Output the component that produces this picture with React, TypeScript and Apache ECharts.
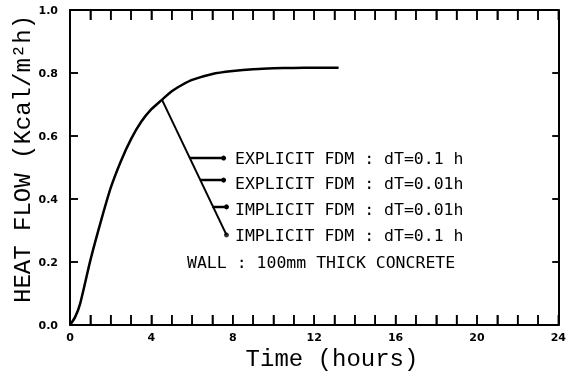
import React, { useEffect, useRef } from "react";
import * as echarts from "echarts";

// Main curve: heat flow vs time
const hours = [0, 0.25, 0.5, 1.0, 1.5, 2.0, 2.5, 3.0, 3.5, 4.0, 4.5, 5.0, 5.5, 6.0, 7.0, 8.0, 9.0, 10, 11, 12, 13.2];
const heatFlow = [0, 0.025, 0.068, 0.205, 0.325, 0.435, 0.52, 0.59, 0.645, 0.685, 0.714, 0.742, 0.762, 0.778, 0.797, 0.806, 0.812, 0.815, 0.816, 0.817, 0.817];

// Axis tick values
const xTicks = [0, 1, 2, 3, 4, 5, 6, 7, 8, 9, 10, 11, 12, 13, 14, 15, 16, 17, 18, 19, 20, 21, 22, 23, 24];
const yTicks = [0, 0.2, 0.4, 0.6, 0.8, 1.0];

// Annotation pointer (diagonal from curve) and its leaders
const pointerX = [4.53, 7.69];
const pointerY = [0.714, 0.286];
const leaderY = [0.53, 0.46, 0.375];
const leaderStartX = [5.89, 6.4, 7.0];
const leaderEndX = [7.55, 7.55, 7.69];

const annotationLabels = [
  "EXPLICIT FDM : dT=0.1 h",
  "EXPLICIT FDM : dT=0.01h",
  "IMPLICIT FDM : dT=0.01h",
  "IMPLICIT FDM : dT=0.1 h",
];
const wallLabel = "WALL : 100mm THICK CONCRETE";
const yTitle = "HEAT FLOW (Kcal/m\u00B2h)";
const xTitle = "Time (hours)";

export default function App() {
  const ref = useRef<HTMLDivElement>(null);
  useEffect(() => {
    if (!ref.current) return;
    const chart = echarts.init(ref.current, null, { renderer: "svg" });
    const labelFont = { color: "#000", fontFamily: "DejaVu Sans", fontWeight: "bold" as const, fontSize: 11 };
    const annFont = { fontFamily: "DejaVu Sans Mono", fontSize: 16.5 };
    const titleFont = { fontFamily: "Liberation Mono", fontSize: 24 };
    const XMIN = 0, XMAX = 24, YMIN = 0, YMAX = 1;
    const hiddenSplit = { show: true, lineStyle: { color: "rgba(0,0,0,0)" } };

    const series: any[] = [
      {
        name: "Heat flow",
        type: "line",
        data: hours.map((h, i) => [h, heatFlow[i]]),
        showSymbol: false,
        smooth: 0.2,
        lineStyle: { color: "#000", width: 2.5 },
        silent: true,
      },
      {
        name: "Pointer",
        type: "line",
        data: pointerX.map((x, i) => [x, pointerY[i]]),
        showSymbol: false,
        lineStyle: { color: "#000", width: 2 },
        silent: true,
      },
    ];
    leaderY.forEach((y, i) => {
      series.push({
        name: annotationLabels[i],
        type: "line",
        data: [
          { value: [leaderStartX[i], y], symbolSize: 0 },
          { value: [leaderEndX[i], y], symbolSize: 5 },
        ],
        symbol: "circle",
        itemStyle: { color: "#000" },
        lineStyle: { color: "#000", width: 2.5 },
        silent: true,
      });
    });
    series.push({
      name: annotationLabels[3],
      type: "scatter",
      data: [[pointerX[1], pointerY[1]]],
      symbolSize: 5,
      itemStyle: { color: "#000" },
      silent: true,
    });

    const texts: any[] = [
      ...annotationLabels.map((t, i) => ({
        type: "text",
        x: 235,
        y: [158, 183, 209, 235][i],
        style: { text: t, ...annFont, fill: "#000", align: "left", verticalAlign: "middle" },
      })),
      {
        type: "text",
        x: 187,
        y: 262,
        style: { text: wallLabel, ...annFont, fill: "#000", align: "left", verticalAlign: "middle" },
      },
      {
        type: "text",
        x: 23,
        y: 159,
        rotation: Math.PI / 2,
        style: { text: yTitle, ...titleFont, fill: "#000", align: "center", verticalAlign: "middle" },
      },
      {
        type: "text",
        x: 332,
        y: 359,
        style: { text: xTitle, ...titleFont, fill: "#000", align: "center", verticalAlign: "middle" },
      },
    ];

    chart.setOption({
      animation: false,
      grid: { left: 70, right: 6, top: 10, bottom: 51 },
      xAxis: [
        {
          type: "value",
          position: "bottom",
          min: XMIN,
          max: XMAX,
          interval: 1,
          axisLine: { show: true, onZero: false, lineStyle: { color: "#000", width: 2 } },
          axisTick: { show: true, inside: true, length: 10, lineStyle: { color: "#000", width: 1.5 } },
          axisLabel: {
            ...labelFont,
            margin: 7,
            formatter: (v: number) => (v % 4 === 0 ? String(v) : ""),
          },
          splitLine: hiddenSplit,
        },
        {
          type: "value",
          position: "top",
          min: XMIN,
          max: XMAX,
          interval: 1,
          axisLine: { show: true, onZero: false, lineStyle: { color: "#000", width: 2 } },
          axisTick: { show: true, inside: true, length: 10, lineStyle: { color: "#000", width: 1.5 } },
          axisLabel: { show: false },
          splitLine: hiddenSplit,
        },
      ],
      yAxis: [
        {
          type: "value",
          position: "left",
          min: YMIN,
          max: YMAX,
          interval: 0.2,
          axisLine: { show: true, lineStyle: { color: "#000", width: 2 } },
          axisTick: { show: true, inside: true, length: 8, lineStyle: { color: "#000", width: 1.5 } },
          axisLabel: { ...labelFont, margin: 12, formatter: (v: number) => v.toFixed(1) },
          splitLine: hiddenSplit,
        },
        {
          type: "value",
          position: "right",
          min: YMIN,
          max: YMAX,
          interval: 0.2,
          axisLine: { show: true, onZero: false, lineStyle: { color: "#000", width: 2 } },
          axisTick: { show: true, inside: true, length: 6, lineStyle: { color: "#000", width: 1.5 } },
          axisLabel: { show: false },
          splitLine: hiddenSplit,
        },
      ],
      series,
      graphic: texts,
    });

    // Tick marks drawn through the grid's own scale (backup for inward ticks)
    const px = (x: number, y: number) => chart.convertToPixel({ gridIndex: 0 } as any, [x, y]) as number[];
    const tickStyle = { stroke: "#000", lineWidth: 1.5 };
    const tickEls: any[] = [];
    xTicks.forEach((v) => {
      const b = px(v, YMIN);
      const t = px(v, YMAX);
      if (b && t) {
        tickEls.push({ type: "line", silent: true, z: 100, shape: { x1: b[0], y1: b[1], x2: b[0], y2: b[1] - 10 }, style: tickStyle });
        tickEls.push({ type: "line", silent: true, z: 100, shape: { x1: t[0], y1: t[1], x2: t[0], y2: t[1] + 10 }, style: tickStyle });
      }
    });
    yTicks.forEach((v) => {
      const l = px(XMIN, v);
      const r = px(XMAX, v);
      if (l && r) {
        tickEls.push({ type: "line", silent: true, z: 100, shape: { x1: l[0], y1: l[1], x2: l[0] + 8, y2: l[1] }, style: tickStyle });
        tickEls.push({ type: "line", silent: true, z: 100, shape: { x1: r[0], y1: r[1], x2: r[0] - 6, y2: r[1] }, style: tickStyle });
      }
    });
    chart.setOption({ graphic: [...texts, ...tickEls] });

    return () => chart.dispose();
  }, []);
  return <div ref={ref} style={{ position: "fixed", left: 0, top: 0, width: 569, height: 376 }} />;
}
